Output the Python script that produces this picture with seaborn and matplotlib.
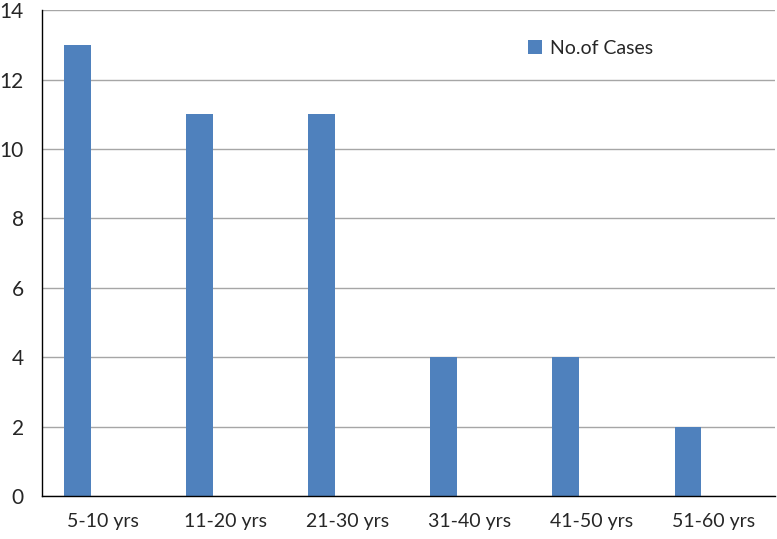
import numpy as np
import matplotlib
matplotlib.use("Agg")
import matplotlib.pyplot as plt
import pandas as pd
import seaborn as sns

AgeGroups = ["5-10 yrs", "11-20 yrs", "21-30 yrs", "31-40 yrs", "41-50 yrs", "51-60 yrs"]
Cases = [13, 11, 11, 4, 4, 2]
YTicks = [0, 2, 4, 6, 8, 10, 12, 14]

sns.set_style("white")
plt.rcParams["font.family"] = ["Lato", "DejaVu Sans"]

DF = pd.DataFrame({"Age": AgeGroups, "Cases": Cases})

fig = plt.figure(figsize=(7.77, 5.39), dpi=100)
ax = fig.add_axes([0.054, 0.080, 0.943, 0.901])
sns.barplot(data=DF, x="Age", y="Cases", color="#4F81BD", saturation=1,
            width=0.22, ax=ax, label="No.of Cases")
# Excel style: bar sits in the left part of its category
for p in ax.patches:
    p.set_x(p.get_x() - 0.21)
    p.set_linewidth(0)

ax.set_xlim(-0.5, len(AgeGroups) - 0.5)
ax.set_ylim(0, 14)
ax.set_yticks(YTicks)
ax.set_xlabel("")
ax.set_ylabel("")
ax.yaxis.grid(True, color="#A6A6A6", linewidth=1)
ax.set_axisbelow(True)
for s in ["top", "right"]:
    ax.spines[s].set_visible(False)
for s in ["left", "bottom"]:
    ax.spines[s].set_color("#000000")
    ax.spines[s].set_linewidth(1)
ax.tick_params(axis="x", which="major", length=0, labelsize=14, pad=12)
ax.set_xticks(np.arange(-0.5, len(AgeGroups)), minor=True)
ax.tick_params(axis="x", which="minor", length=6, width=1, color="#000000", direction="out")
ax.tick_params(axis="y", length=6, width=1, color="#000000", direction="out", labelsize=15, pad=7)
ax.legend(loc="upper left", bbox_to_anchor=(0.64, 0.975), frameon=False,
          handlelength=0.7, handleheight=0.7, handletextpad=0.4, fontsize=14)

fig.savefig("out.png", dpi=100)
